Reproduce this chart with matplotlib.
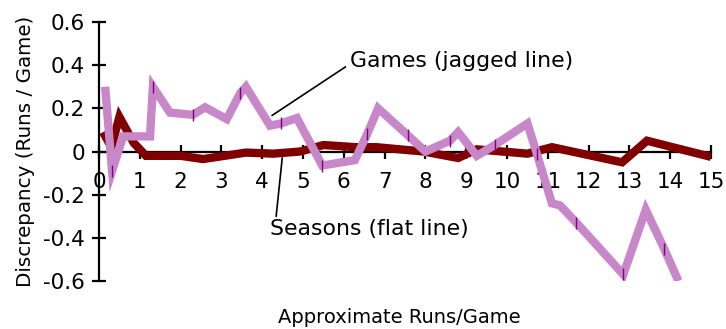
import matplotlib
matplotlib.use("Agg")
import matplotlib.pyplot as plt

# discrepancy per game, jagged series
games_x = [0.15, 0.32, 0.59, 1.25, 1.32, 1.74, 2.3, 2.6, 3.13, 3.46, 3.6,
           4.19, 4.46, 4.85, 5.47, 6.27, 6.57, 6.84, 7.57, 8.0, 8.6, 8.8,
           9.26, 9.7, 10.5, 10.73, 11.1, 11.3, 11.7, 12.85, 13.4, 13.85, 14.2]
games_y = [0.30, -0.09, 0.07, 0.07, 0.30, 0.18, 0.17, 0.205, 0.15, 0.27, 0.30,
           0.12, 0.13, 0.155, -0.065, -0.04, 0.08, 0.20, 0.075, 0.0, 0.05, 0.09,
           -0.02, 0.03, 0.13, -0.01, -0.24, -0.25, -0.33, -0.57, -0.27, -0.45, -0.60]
games_marks = [1, 4, 6, 9, 12, 14, 16, 18, 20, 23, 25, 28, 29, 31]

# discrepancy per season, flat series
seasons_x = [0.1, 0.3, 0.5, 0.85, 1.15, 2.0, 2.55, 3.6, 4.27, 4.93, 5.5, 6.3,
             6.8, 7.95, 8.8, 9.26, 10.5, 11.1, 12.82, 13.43, 15.0]
seasons_y = [0.09, 0.02, 0.16, 0.04, -0.02, -0.02, -0.035, -0.005, -0.01, 0.0,
             0.03, 0.02, 0.02, 0.0, -0.03, 0.01, -0.01, 0.02, -0.05, 0.05, -0.025]

xticks = list(range(0, 16))
yticks = [-0.6, -0.4, -0.2, 0, 0.2, 0.4, 0.6]
ytick_labels = ["-0.6", "-0.4", "-0.2", "0", "0.2", "0.4", "0.6"]

plt.rcParams["font.family"] = ["DejaVu Sans"]

fig = plt.figure(figsize=(7.26, 3.29), dpi=100)
ax = fig.add_axes([0.1364, 0.146, 0.843, 0.787])

ax.plot(seasons_x, seasons_y, color="#800000", lw=6, solid_joinstyle="miter",
        solid_capstyle="butt", zorder=3)
ax.plot(games_x, games_y, color="#c887c8", lw=6, solid_joinstyle="miter",
        solid_capstyle="butt", zorder=4,
        marker="|", markevery=games_marks, markersize=9, markeredgewidth=1,
        markeredgecolor="#800080")

ax.set_xlim(0, 15)
ax.set_ylim(-0.6, 0.6)

ax.spines["left"].set_position(("data", 0))
ax.spines["bottom"].set_position(("data", 0))
ax.spines["top"].set_visible(False)
ax.spines["right"].set_visible(False)
for s in ("left", "bottom"):
    ax.spines[s].set_linewidth(1.6)
    ax.spines[s].set_zorder(2)

ax.set_xticks(xticks)
ax.set_yticks(yticks)
ax.set_yticklabels(ytick_labels)
ax.tick_params(axis="both", direction="inout", length=10, width=1.6, labelsize=15.5)
ax.tick_params(axis="x", pad=10)
ax.tick_params(axis="y", pad=5)

ax.set_ylabel("Discrepancy (Runs / Game)", fontsize=14.3, labelpad=6)
fig.text(0.55, 0.035, "Approximate Runs/Game", fontsize=14, ha="center", va="center")

ax.annotate("Games (jagged line)", xy=(4.24, 0.167), xytext=(6.15, 0.42),
            fontsize=15.8, va="center", ha="left",
            arrowprops=dict(arrowstyle="-", color="black", lw=1.2,
                            shrinkA=0, shrinkB=0, relpos=(-0.02, 0.2)))
ax.annotate("Seasons (flat line)", xy=(4.49, -0.03), xytext=(4.19, -0.36),
            fontsize=15.8, va="center", ha="left",
            arrowprops=dict(arrowstyle="-", color="black", lw=1.2,
                            shrinkA=0, shrinkB=0, relpos=(0.03, 1.05)))

fig.savefig("out.png", dpi=100)
